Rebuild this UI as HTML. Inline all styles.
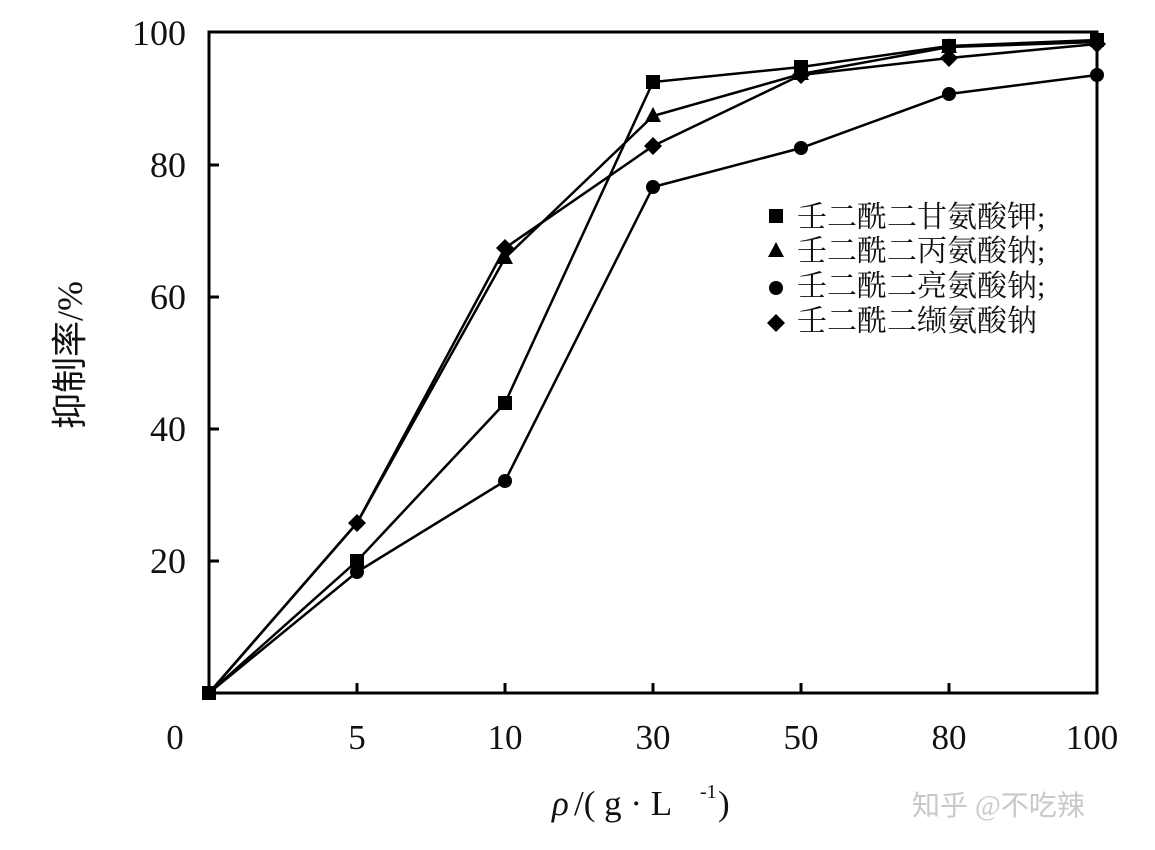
<!DOCTYPE html>
<html><head><meta charset="utf-8"><style>
html,body{margin:0;padding:0;background:#fff;}
svg{display:block;}
text{font-family:"Liberation Serif","Noto Serif CJK SC",serif;fill:#111;}
.cj{font-family:"Liberation Serif","Noto Sans CJK SC",sans-serif;}
</style></head><body>
<svg width="1155" height="850" viewBox="0 0 1155 850" xmlns="http://www.w3.org/2000/svg">
<rect x="209" y="32" width="888" height="661" fill="none" stroke="#000" stroke-width="3"/>
<g stroke="#000" stroke-width="3">
<line x1="209" y1="561" x2="219" y2="561"/><line x1="209" y1="429" x2="219" y2="429"/>
<line x1="209" y1="297" x2="219" y2="297"/><line x1="209" y1="165" x2="219" y2="165"/>
<line x1="357" y1="693" x2="357" y2="683"/><line x1="505" y1="693" x2="505" y2="683"/>
<line x1="653" y1="693" x2="653" y2="683"/><line x1="801" y1="693" x2="801" y2="683"/>
<line x1="949" y1="693" x2="949" y2="683"/>
</g>
<g font-size="36" text-anchor="end">
<text x="186" y="45">100</text><text x="186" y="177">80</text><text x="186" y="309">60</text>
<text x="186" y="441">40</text><text x="186" y="573">20</text>
</g>
<g font-size="35" text-anchor="middle">
<text x="175" y="749">0</text><text x="357" y="749">5</text><text x="505" y="749">10</text>
<text x="653" y="749">30</text><text x="801" y="749">50</text><text x="949" y="749">80</text><text x="1092" y="749">100</text>
</g>
<text x="552" y="815" font-size="35" font-style="italic">ρ</text>
<text x="574" y="815" font-size="35">/( g · L</text>
<text x="700" y="798" font-size="20">-1</text>
<text x="718" y="815" font-size="35">)</text>
<text class="cj" font-size="36" transform="translate(82,355) rotate(-90)" text-anchor="middle">抑制率/%</text>
<g fill="none" stroke="#000" stroke-width="2.5">
<polyline points="209,693 357,561 505,403 653,82 801,67 949,46 1097,40"/>
<polyline points="209,693 357,523 505,258 653,116 801,74 949,47 1097,42"/>
<polyline points="209,693 357,572 505,481 653,187 801,148 949,94 1097,75"/>
<polyline points="209,693 357,523 505,248 653,146 801,75 949,58 1097,44"/>
</g>
<g fill="#000">
<rect x="202" y="686" width="14" height="14"/>
<rect x="350" y="554" width="14" height="14"/><rect x="498" y="396" width="14" height="14"/>
<rect x="646" y="75" width="14" height="14"/><rect x="794" y="60" width="14" height="14"/>
<rect x="942" y="39" width="14" height="14"/><rect x="1090" y="33" width="14" height="14"/>
<polygon points="505,249 513,264 497,264"/><polygon points="653,107 661,122 645,122"/>
<polygon points="801,65 809,80 793,80"/><polygon points="949,38 957,53 941,53"/>
<circle cx="357" cy="572" r="7"/><circle cx="505" cy="481" r="7"/><circle cx="653" cy="187" r="7"/>
<circle cx="801" cy="148" r="7"/><circle cx="949" cy="94" r="7"/><circle cx="1097" cy="75" r="7"/>
<polygon points="357,514 366,523 357,532 348,523"/><polygon points="505,239 514,248 505,257 496,248"/>
<polygon points="653,137 662,146 653,155 644,146"/><polygon points="801,66 810,75 801,84 792,75"/>
<polygon points="949,49 958,58 949,67 940,58"/><polygon points="1097,35 1106,44 1097,53 1088,44"/>
<rect x="769" y="209" width="14" height="14"/>
<polygon points="776,242 784,257 768,257"/>
<circle cx="776" cy="288" r="7"/>
<polygon points="776,314 785,323 776,332 767,323"/>
</g>
<g class="cj" font-size="30">
<text x="797" y="227">壬二酰二甘氨酸钾;</text>
<text x="797" y="261">壬二酰二丙氨酸钠;</text>
<text x="797" y="296">壬二酰二亮氨酸钠;</text>
<text x="797" y="331">壬二酰二缬氨酸钠</text>
</g>
<text class="cj" x="912" y="815" font-size="28" style="fill:#c8c8c8">知乎 @不吃辣</text>
</svg>
</body></html>
